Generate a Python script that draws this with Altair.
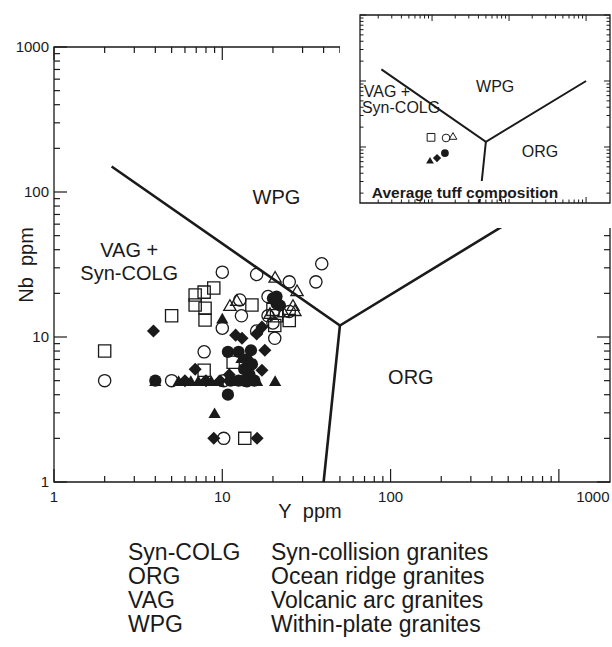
import altair as alt
import pandas as pd

# ---------------- data ----------------
# main diagram: Y ppm (x) vs Nb ppm (y)
oc_x = [2, 5, 7.8, 10, 16, 25, 39, 36, 12.7, 18.7, 25, 18.7, 20.5, 10, 16, 10.2, 10.2, 14, 20, 13]
oc_y = [5, 5, 7.9, 28, 27, 24, 32, 24, 18, 19, 15, 14, 9.8, 11.5, 11, 2, 5, 5, 12.5, 14]

os_x = [2, 5, 8.9, 7.8, 6.9, 6.9, 7.9, 7.9, 15, 20.5, 25, 11.6, 7.8, 13.6, 21, 20]
os_y = [8, 14, 21.8, 20.4, 19.5, 16.6, 15.8, 13.1, 16.6, 12, 13, 6.7, 5.9, 2, 14, 15.5]

ot_x = [20.6, 27.8, 11.1, 12.2, 19.2, 26.3, 27, 23]
ot_y = [26, 21, 16.6, 18, 14.6, 16.6, 15.3, 15]

fc_x = [4, 10.8, 21, 21, 20, 22, 10.8, 12.5, 14.8, 14, 15, 13.5, 14.5, 11.2, 12.5, 13.5, 15.5]
fc_y = [5, 4, 19, 17, 18.5, 16.5, 7.9, 7.9, 8.1, 7, 6.5, 6, 5.5, 5, 5, 5, 5]

fd_x = [3.9, 6.9, 8.9, 16.1, 17.2, 13.1, 17.9, 17.2, 6, 8, 9.7, 12, 16, 11]
fd_y = [11, 6, 2, 2, 11.7, 9.8, 8.1, 5.9, 5, 5, 5, 10.3, 10.5, 5.5]

ft_x = [4, 5.5, 6.5, 7.2, 7.8, 8.6, 9, 16.1, 20.6, 10, 9.5, 12.5, 15, 13]
ft_y = [5, 5, 5, 5, 5, 5, 3, 5, 5, 13.5, 5, 5, 5, 7.2]

# discrimination boundaries (Pearce et al.)
bound_upper_x = [2.2, 50, 1000]
bound_upper_y = [150, 12, 100]
bound_lower_x = [50, 40]
bound_lower_y = [12, 1]
bound_inset_lower_x = [50, 41.3]
bound_inset_lower_y = [12, 1.417]

# inset: average tuff composition
avg_series = ["os", "oc", "ot", "ft", "fd", "fc"]
avg_x = [9.7, 15.2, 18.7, 9.4, 11.6, 14.7]
avg_y = [14, 13.7, 14.7, 6.3, 6.8, 8.1]

x_tick_labels = ["1", "10", "100", "1000"]
y_tick_labels = ["1", "10", "100", "1000"]
legend_abbr = ["Syn-COLG", "ORG", "VAG", "WPG"]
legend_desc = ["Syn-collision granites", "Ocean ridge granites",
               "Volcanic arc granites", "Within-plate granites"]

# ---------------- layout ----------------
W, H = 556, 435
FONT = "Liberation Sans"
INK = "#1a1a1a"

MX = alt.Scale(type="log", domain=[1, 2013], range=[0, W], nice=False)
MY = alt.Scale(type="log", domain=[1, 1000], range=[H, 0], nice=False)
IX = alt.Scale(type="log", domain=[1.16, 2045], range=[306, 556], nice=False)
IY = alt.Scale(type="log", domain=[1.417, 1000], range=[156, -32], nice=False)

one = pd.DataFrame({"_": [0]})
layers = []


def decade_ticks(lo, hi):
    major = [v for v in [1, 10, 100, 1000] if lo <= v <= hi]
    minor = [k * 10 ** d for d in range(0, 3) for k in range(2, 10) if lo <= k * 10 ** d <= hi]
    return major, minor


def tick_layers(xs, ys, x0, x1, y0, y1, major_len, minor_len, xlo, xhi, ylo, yhi, sw):
    out = []
    xmaj, xmin = decade_ticks(xlo, xhi)
    ymaj, ymin = decade_ticks(ylo, yhi)
    for vals, ln in ((xmaj, major_len), (xmin, minor_len)):
        d = pd.DataFrame({"v": vals})
        base = alt.Chart(d).mark_rule(color=INK, strokeWidth=sw)
        out.append(base.encode(x=alt.X("v:Q", scale=xs, axis=None),
                               y=alt.value(y1), y2=alt.value(y1 - ln)))
        out.append(base.encode(x=alt.X("v:Q", scale=xs, axis=None),
                               y=alt.value(y0), y2=alt.value(y0 + ln)))
    for vals, ln in ((ymaj, major_len), (ymin, minor_len)):
        d = pd.DataFrame({"v": vals})
        base = alt.Chart(d).mark_rule(color=INK, strokeWidth=sw)
        out.append(base.encode(y=alt.Y("v:Q", scale=ys, axis=None),
                               x=alt.value(x0), x2=alt.value(x0 + ln)))
        out.append(base.encode(y=alt.Y("v:Q", scale=ys, axis=None),
                               x=alt.value(x1), x2=alt.value(x1 - ln)))
    return out


def box(x0, x1, y0, y1, fill=None, stroke=None, sw=1.3):
    kw = {}
    if fill:
        kw["fill"] = fill
    else:
        kw["fillOpacity"] = 0
    if stroke:
        kw["stroke"] = stroke
        kw["strokeWidth"] = sw
    else:
        kw["strokeWidth"] = 0
    return alt.Chart(one).mark_rect(**kw).encode(
        x=alt.value(x0), x2=alt.value(x1), y=alt.value(y0), y2=alt.value(y1))


def line_layer(xv, yv, xs, ys, sw):
    d = pd.DataFrame({"x": xv, "y": yv, "o": list(range(len(xv)))})
    return alt.Chart(d).mark_line(color=INK, strokeWidth=sw, strokeJoin="miter").encode(
        x=alt.X("x:Q", scale=xs, axis=None), y=alt.Y("y:Q", scale=ys, axis=None),
        order="o:Q")


SYM = {
    "oc": dict(shape="circle", filled=False, size=150),
    "os": dict(shape="square", filled=False, size=150),
    "ot": dict(shape="triangle-up", filled=False, size=150),
    "fc": dict(shape="circle", filled=True, size=150),
    "fd": dict(shape="diamond", filled=True, size=170),
    "ft": dict(shape="triangle-up", filled=True, size=150),
}


def pts(key, xv, yv, xs, ys, scale=1.0, sw=1.3):
    s = SYM[key]
    d = pd.DataFrame({"x": xv, "y": yv})
    kw = dict(shape=s["shape"], filled=s["filled"], size=s["size"] * scale, opacity=1)
    if s["filled"]:
        kw.update(color=INK, strokeWidth=0)
    else:
        kw.update(color=INK, strokeWidth=sw)
    return alt.Chart(d).mark_point(**kw).encode(
        x=alt.X("x:Q", scale=xs, axis=None), y=alt.Y("y:Q", scale=ys, axis=None))


def label(text, x, y, xs, ys, size, weight="normal"):
    return alt.Chart(one).mark_text(text=text, font=FONT, fontSize=size, fontWeight=weight,
                                     color=INK, align="center", baseline="middle").encode(
        x=alt.XDatum(x, scale=xs, type="quantitative", axis=None),
        y=alt.YDatum(y, scale=ys, type="quantitative", axis=None))


# main frame + ticks
layers.append(box(0, W, 0, H, stroke=INK))
layers += tick_layers(MX, MY, 0, W, 0, H, 13, 6, 1, 1000, 1, 1000, 1.2)

# main boundaries
layers.append(line_layer(bound_upper_x, bound_upper_y, MX, MY, 2.6))
layers.append(line_layer(bound_lower_x, bound_lower_y, MX, MY, 2.6))

for key, xv, yv in (("oc", oc_x, oc_y), ("os", os_x, os_y), ("ot", ot_x, ot_y),
                    ("fc", fc_x, fc_y), ("fd", fd_x, fd_y), ("ft", ft_x, ft_y)):
    layers.append(pts(key, xv, yv, MX, MY))

layers.append(label("WPG", 21, 91, MX, MY, 20))
layers.append(label("VAG +", 2.8, 39, MX, MY, 20))
layers.append(label("Syn-COLG", 2.8, 27, MX, MY, 20))
layers.append(label("ORG", 132, 5.2, MX, MY, 20))

# axis tick labels
xl = pd.DataFrame({"v": [1, 10, 100], "t": x_tick_labels[:3]})
layers.append(alt.Chart(xl).mark_text(font=FONT, fontSize=15, color=INK, baseline="top").encode(
    x=alt.X("v:Q", scale=MX, axis=None), y=alt.value(H + 8), text="t:N"))
xl2 = pd.DataFrame({"v": [1000], "t": x_tick_labels[3:]})
layers.append(alt.Chart(xl2).mark_text(font=FONT, fontSize=15, color=INK, baseline="top", dx=34).encode(
    x=alt.X("v:Q", scale=MX, axis=None), y=alt.value(H + 8), text="t:N"))
yl = pd.DataFrame({"v": [1, 10, 100, 1000], "t": y_tick_labels})
layers.append(alt.Chart(yl).mark_text(font=FONT, fontSize=15, color=INK, align="right",
                                      baseline="middle").encode(
    y=alt.Y("v:Q", scale=MY, axis=None), x=alt.value(-5), text="t:N"))

# axis titles
layers.append(alt.Chart(one).mark_text(text="Y\u00a0\u00a0ppm", font=FONT, fontSize=20, color=INK,
                                       align="center", baseline="middle").encode(
    x=alt.value(256), y=alt.value(H + 30)))
layers.append(alt.Chart(one).mark_text(text="Nb\u00a0\u00a0ppm", font=FONT, fontSize=20, color=INK,
                                       align="center", baseline="middle", angle=270).encode(
    x=alt.value(-27), y=alt.value(218)))

# bottom glossary
for i, (a, b) in enumerate(zip(legend_abbr, legend_desc)):
    yy = 506 + 24 * i
    layers.append(alt.Chart(one).mark_text(text=a, font=FONT, fontSize=23, color=INK,
                                           align="left", baseline="middle").encode(
        x=alt.value(74), y=alt.value(yy)))
    layers.append(alt.Chart(one).mark_text(text=b, font=FONT, fontSize=23, color=INK,
                                           align="left", baseline="middle").encode(
        x=alt.value(217), y=alt.value(yy)))

# ---------------- inset ----------------
# white backing panel (hides the corner of the main diagram) and the inset frame
layers.append(box(286, 560, -47, 181, fill="white"))
layers.append(box(306, 556, -32, 156, fill="white", stroke=INK))
layers += tick_layers(IX, IY, 306, 556, -32, 156, 6, 3.5, 1.16, 2045, 1.417, 1000, 1)
layers.append(line_layer(bound_upper_x, bound_upper_y, IX, IY, 2))
layers.append(line_layer(bound_inset_lower_x, bound_inset_lower_y, IX, IY, 2))
for key, xv, yv in zip(avg_series, avg_x, avg_y):
    layers.append(pts(key, [xv], [yv], IX, IY, scale=0.4, sw=1))
layers.append(label("WPG", 66, 81, IX, IY, 16))
layers.append(label("VAG +", 2.6, 68, IX, IY, 16))
layers.append(label("Syn-COLG", 3.96, 39, IX, IY, 16))
layers.append(label("ORG", 252, 8.4, IX, IY, 16))
layers.append(box(314, 510, 134, 152, fill="white"))
layers.append(label("Average tuff composition", 26.8, 2.0, IX, IY, 15.5, "bold"))

chart = alt.layer(*layers).resolve_scale(x="independent", y="independent").properties(
    width=W, height=H,
    padding={"left": 54, "top": 47, "right": 2, "bottom": 165},
    autosize=alt.AutoSizeParams(type="none"),
).configure_view(stroke="transparent")

chart.save("out.html", embed_options={"renderer": "svg", "actions": False})
